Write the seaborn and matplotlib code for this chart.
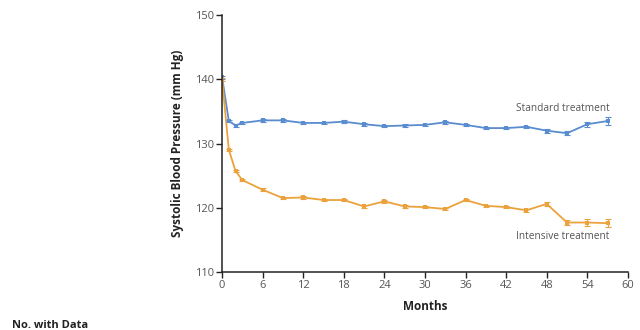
import matplotlib
matplotlib.use("Agg")
import matplotlib.pyplot as plt
import seaborn as sns
import pandas as pd
import numpy as np

months = [0, 1, 2, 3, 6, 9, 12, 15, 18, 21, 24, 27, 30, 33, 36, 39, 42, 45, 48, 51, 54, 57]
standard = [140.3, 133.5, 132.8, 133.2, 133.6, 133.6, 133.2, 133.2, 133.4, 133.0, 132.7, 132.8,
            132.9, 133.3, 132.9, 132.4, 132.4, 132.6, 132.0, 131.6, 133.0, 133.5]
standard_err = [0.2, 0.2, 0.2, 0.2, 0.2, 0.2, 0.2, 0.2, 0.2, 0.2, 0.2, 0.2,
                0.2, 0.2, 0.2, 0.2, 0.2, 0.2, 0.3, 0.3, 0.4, 0.6]
intensive = [140.0, 129.0, 125.7, 124.3, 122.8, 121.5, 121.6, 121.2, 121.2, 120.2, 121.0, 120.2,
             120.1, 119.8, 121.2, 120.3, 120.1, 119.6, 120.6, 117.7, 117.7, 117.6]
intensive_err = [0.2, 0.2, 0.2, 0.2, 0.2, 0.2, 0.2, 0.2, 0.2, 0.2, 0.2, 0.2,
                 0.2, 0.2, 0.2, 0.2, 0.2, 0.2, 0.3, 0.4, 0.5, 0.6]
series_names = ["Standard treatment", "Intensive treatment"]
x_ticks = [0, 6, 12, 18, 24, 30, 36, 42, 48, 54, 60]
y_ticks = [110, 120, 130, 140, 150]

sns.set_style("ticks")
plt.rcParams["font.family"] = ["Open Sans", "DejaVu Sans"]

blue = "#5a8cd0"
orange = "#eba23c"
text_gray = "#555555"

df = pd.DataFrame({
    "Months": months * 2,
    "SBP": standard + intensive,
    "Group": [series_names[0]] * len(months) + [series_names[1]] * len(months),
})

fig = plt.figure(figsize=(6.4, 3.3), dpi=100)
ax = fig.add_axes([0.347, 0.1758, 0.634, 0.7787])

sns.lineplot(data=df, x="Months", y="SBP", hue="Group", palette=[blue, orange],
             marker="s", markersize=3.5, markeredgewidth=0, linewidth=1.3,
             legend=False, ax=ax)
ax.errorbar(months, standard, yerr=standard_err, fmt="none", ecolor=blue,
            elinewidth=0.8, capsize=2.2, capthick=0.8)
ax.errorbar(months, intensive, yerr=intensive_err, fmt="none", ecolor=orange,
            elinewidth=0.8, capsize=2.2, capthick=0.8)

ax.set_xlim(0, 60)
ax.set_ylim(110, 150)
ax.set_xticks(x_ticks)
ax.set_yticks(y_ticks)
ax.tick_params(axis="both", labelsize=8, colors="#222222", labelcolor=text_gray,
               length=4, width=1, direction="out", pad=2)
for s in ["top", "right"]:
    ax.spines[s].set_visible(False)
for s in ["left", "bottom"]:
    ax.spines[s].set_color("#222222")
    ax.spines[s].set_linewidth(1.1)
ax.set_xlabel("Months", fontsize=8.5, fontweight="bold", color="#222222", labelpad=6)
ax.set_ylabel("Systolic Blood Pressure (mm Hg)", fontsize=8.5, fontweight="bold",
              color="#222222", labelpad=8)

ax.text(57.3, 135.4, series_names[0], ha="right", va="center", fontsize=7.3, color=text_gray)
ax.text(57.3, 115.6, series_names[1], ha="right", va="center", fontsize=7.3, color=text_gray)

fig.text(12 / 640, 1 - 325 / 330, "No. with Data", ha="left", va="center",
         fontsize=8, fontweight="bold", color="#222222")

fig.savefig("out.png", dpi=100)
